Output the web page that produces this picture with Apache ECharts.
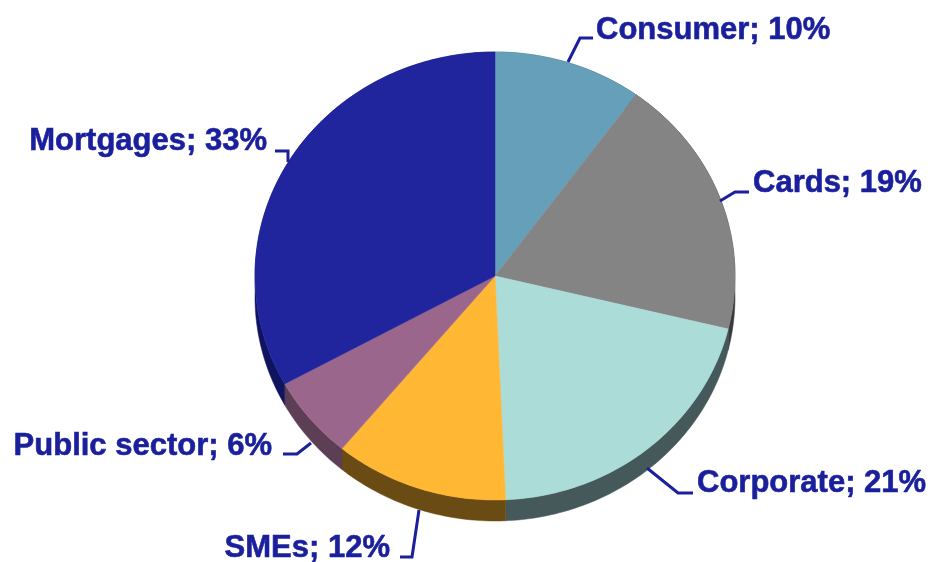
<!DOCTYPE html>
<html>
<head>
<meta charset="utf-8">
<style>
  html, body { margin: 0; padding: 0; background: #fff; }
  #chart { width: 931px; height: 562px; }
</style>
<script src="https://cdn.jsdelivr.net/npm/echarts@6/dist/echarts.min.js"></script>
</head>
<body>
<div id="chart"></div>
<script>
const categories = ['Consumer', 'Cards', 'Corporate', 'SMEs', 'Public sector', 'Mortgages']
// printed percentages
const percents = [10, 19, 21, 12, 6, 33]
// slice sizes as they appear in the tilted picture
const sliceShares = [10, 18.8, 20.5, 11.7, 6, 33]
const topColors = ['#659fb9', '#848484', '#abdcd8', '#ffb734', '#9b668c', '#20259e']
const sideColors = ['#3d6070', '#3a3a3a', '#45595a', '#6a4b14', '#5c3f55', '#10145f']

const cx = 495
const cy = 276
const rx = 240
const ry = 224
const depth = 21
const textColor = '#1a1f9c'

// label anchor and leader line for each slice
const labelLayout = [
  { x: 596, y: 30, align: 'left', line: [[568, 62], [580, 38], [593, 38]] },
  { x: 753, y: 183, align: 'left', line: [[720, 201], [735, 192], [749, 192]] },
  { x: 697, y: 483, align: 'left', line: [[647, 468], [678, 493], [693, 493]] },
  { x: 390, y: 548, align: 'right', line: [[419, 510], [412, 557], [400, 557]] },
  { x: 272, y: 446, align: 'right', line: [[311, 443], [297, 454], [283, 454]] },
  { x: 267, y: 141, align: 'right', line: [[288, 162], [288, 151], [275, 151]] }
]

const total = sliceShares.reduce((a, b) => a + b, 0)
let running = 0
const sliceData = sliceShares.map((v) => {
  const item = [running / total, (running + v) / total]
  running += v
  return item
})

// points along the ellipse, clockwise from 12 o'clock
const arcPoints = (from, to, dy) => {
  const steps = Math.max(2, Math.ceil((to - from) * 360))
  const pts = []
  for (let i = 0; i <= steps; i++) {
    const t = (from + ((to - from) * i) / steps) * Math.PI * 2
    pts.push([cx + rx * Math.sin(t), cy - ry * Math.cos(t) + dy])
  }
  return pts
}

const option = {
  animation: false,
  backgroundColor: '#fff',
  series: [
    {
      // rim under the pie
      type: 'custom',
      coordinateSystem: 'none',
      silent: true,
      z: 1,
      data: sliceData,
      renderItem: (params, api) => {
        const from = api.value(0)
        const to = api.value(1)
        const pts = arcPoints(from, to, 0).concat(arcPoints(from, to, depth).reverse())
        return {
          type: 'polygon',
          shape: { points: pts },
          style: { fill: sideColors[params.dataIndex], stroke: sideColors[params.dataIndex], lineWidth: 0.5 }
        }
      }
    },
    {
      // top face
      type: 'custom',
      coordinateSystem: 'none',
      silent: true,
      z: 2,
      data: sliceData,
      renderItem: (params, api) => {
        const pts = [[cx, cy]].concat(arcPoints(api.value(0), api.value(1), 0))
        return {
          type: 'polygon',
          shape: { points: pts },
          style: { fill: topColors[params.dataIndex], stroke: topColors[params.dataIndex], lineWidth: 0.5 }
        }
      }
    },
    {
      // labels with leader lines
      type: 'custom',
      coordinateSystem: 'none',
      silent: true,
      z: 3,
      data: categories.map((c, i) => [i]),
      renderItem: (params) => {
        const i = params.dataIndex
        const l = labelLayout[i]
        return {
          type: 'group',
          children: [
            {
              type: 'polyline',
              shape: { points: l.line },
              style: { fill: null, stroke: textColor, lineWidth: 3 }
            },
            {
              type: 'text',
              x: l.x,
              y: l.y,
              style: {
                text: categories[i] + '; ' + percents[i] + '%',
                fill: textColor,
                stroke: textColor,
                lineWidth: 0.6,
                font: 'bold 31px "Liberation Sans", Arial, sans-serif',
                align: l.align,
                verticalAlign: 'middle'
              }
            }
          ]
        }
      }
    }
  ]
}

const chart = echarts.init(document.getElementById('chart'), null, { renderer: 'canvas' })
chart.setOption(option)
</script>
</body>
</html>
